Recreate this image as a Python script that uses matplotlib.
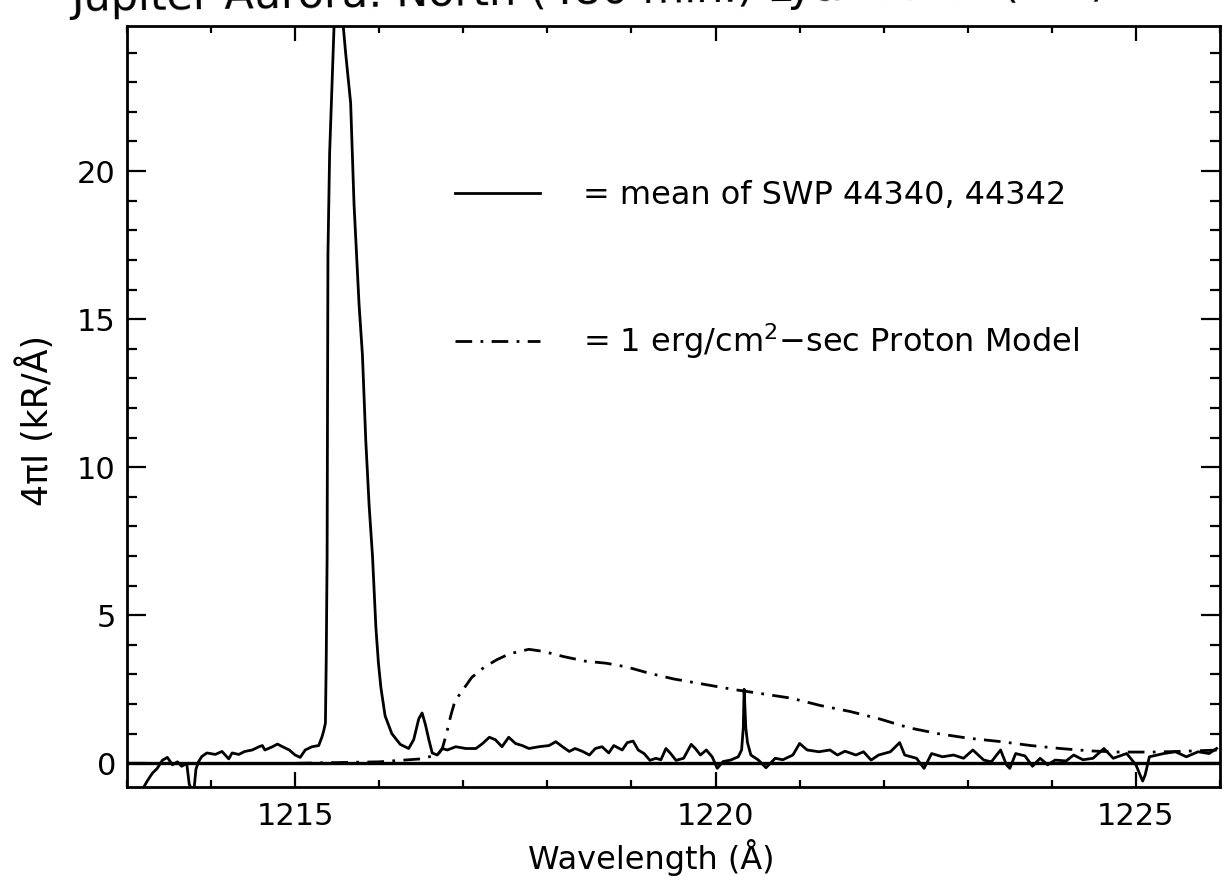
import numpy as np
import matplotlib.pyplot as plt
from matplotlib.lines import Line2D
from matplotlib.ticker import MultipleLocator

# mean of SWP 44340, 44342
wave = [1213.18, 1213.24, 1213.30, 1213.36, 1213.42, 1213.48, 1213.54, 1213.60,
        1213.65, 1213.71, 1213.74, 1213.77, 1213.80, 1213.82, 1213.85, 1213.89,
        1213.95, 1214.05, 1214.13, 1214.21, 1214.25, 1214.33, 1214.40, 1214.49,
        1214.57, 1214.61, 1214.64, 1214.73, 1214.79, 1214.85, 1214.93, 1215.00,
        1215.06, 1215.12, 1215.20, 1215.28, 1215.32, 1215.34, 1215.36, 1215.37,
        1215.38, 1215.385, 1215.39, 1215.41, 1215.44, 1215.47, 1215.51, 1215.55,
        1215.60, 1215.66, 1215.70, 1215.76, 1215.80, 1215.84, 1215.88, 1215.92,
        1215.96, 1215.99, 1216.02, 1216.07, 1216.15, 1216.25, 1216.35, 1216.41,
        1216.47, 1216.51, 1216.55, 1216.59, 1216.63, 1216.69, 1216.75, 1216.81,
        1216.91, 1217.03, 1217.15, 1217.23, 1217.31, 1217.38, 1217.46, 1217.54,
        1217.62, 1217.70, 1217.78, 1217.90, 1218.02, 1218.10, 1218.18, 1218.26,
        1218.33, 1218.42, 1218.50, 1218.57, 1218.65, 1218.73, 1218.79, 1218.89,
        1218.95, 1219.02, 1219.08, 1219.15, 1219.22, 1219.29, 1219.35, 1219.41,
        1219.46, 1219.53, 1219.62, 1219.71, 1219.76, 1219.82, 1219.89, 1219.96,
        1220.02, 1220.09, 1220.18, 1220.27, 1220.31, 1220.33, 1220.34, 1220.36,
        1220.38, 1220.42, 1220.51, 1220.60, 1220.71, 1220.80, 1220.92, 1221.00,
        1221.09, 1221.23, 1221.36, 1221.45, 1221.54, 1221.67, 1221.76, 1221.85,
        1221.94, 1222.08, 1222.19, 1222.25, 1222.39, 1222.48, 1222.57, 1222.70,
        1222.83, 1222.95, 1223.06, 1223.19, 1223.28, 1223.39, 1223.46, 1223.50,
        1223.57, 1223.68, 1223.77, 1223.86, 1223.95, 1224.04, 1224.17, 1224.26,
        1224.37, 1224.49, 1224.62, 1224.73, 1224.89, 1225.00, 1225.04, 1225.08,
        1225.11, 1225.16, 1225.33, 1225.47, 1225.60, 1225.74, 1225.87, 1225.96]
flux = [-0.90, -0.60, -0.34, -0.17, 0.10, 0.20, -0.05, 0.05,
        -0.10, 0.00, -0.70, -0.90, -0.80, -0.20, 0.05, 0.23,
        0.35, 0.30, 0.40, 0.15, 0.35, 0.30, 0.40, 0.45,
        0.56, 0.60, 0.45, 0.56, 0.65, 0.56, 0.45, 0.28,
        0.20, 0.45, 0.56, 0.60, 0.90, 1.10, 1.36, 3.60,
        7.00, 11.7, 17.2, 20.6, 23.1, 25.5, 27.0, 25.6,
        24.0, 22.3, 18.9, 15.5, 13.8, 10.9, 8.70, 7.00,
        4.60, 3.40, 2.55, 1.60, 1.00, 0.64, 0.50, 0.80,
        1.50, 1.70, 1.30, 0.80, 0.35, 0.28, 0.50, 0.45,
        0.56, 0.50, 0.50, 0.67, 0.88, 0.80, 0.56, 0.88,
        0.67, 0.60, 0.50, 0.56, 0.60, 0.73, 0.56, 0.40,
        0.50, 0.40, 0.28, 0.50, 0.56, 0.35, 0.60, 0.45,
        0.70, 0.75, 0.45, 0.33, 0.10, 0.17, 0.12, 0.50,
        0.35, 0.10, 0.17, 0.64, 0.50, 0.28, 0.45, 0.22,
        -0.17, 0.06, 0.11, 0.22, 0.45, 1.20, 2.50, 1.20,
        0.70, 0.28, 0.11, -0.15, 0.17, 0.12, 0.28, 0.67,
        0.45, 0.39, 0.45, 0.28, 0.41, 0.28, 0.39, 0.11,
        0.28, 0.39, 0.70, 0.28, 0.17, -0.17, 0.33, 0.22,
        0.28, 0.17, 0.45, 0.11, 0.05, 0.45, -0.05, -0.17,
        0.33, 0.25, -0.10, 0.17, -0.05, 0.11, 0.08, 0.28,
        0.12, 0.17, 0.50, 0.17, 0.33, -0.05, -0.33, -0.60,
        -0.39, 0.22, 0.33, 0.39, 0.22, 0.39, 0.33, 0.50]

# 1 erg/cm2-sec proton model
model_wave = [1215.00, 1216.00, 1216.50, 1216.70, 1216.75, 1216.80, 1216.85, 1216.90,
              1217.00, 1217.10, 1217.25, 1217.40, 1217.55, 1217.78, 1217.95, 1218.20,
              1218.45, 1218.70, 1218.95, 1219.20, 1219.50, 1219.90, 1220.20, 1220.55,
              1220.90, 1221.25, 1221.60, 1221.95, 1222.30, 1222.65, 1223.00, 1223.40,
              1223.75, 1224.10, 1224.45, 1224.80, 1225.20, 1225.50, 1226.00]
model_flux = [0.00, 0.05, 0.15, 0.30, 0.50, 1.00, 1.60, 2.10,
              2.50, 2.90, 3.25, 3.50, 3.70, 3.85, 3.78, 3.60,
              3.45, 3.38, 3.25, 3.05, 2.85, 2.65, 2.50, 2.35,
              2.20, 1.95, 1.75, 1.50, 1.20, 1.00, 0.85, 0.73,
              0.60, 0.50, 0.42, 0.38, 0.38, 0.40, 0.45]

labels = ['= mean of SWP 44340, 44342', '= 1 erg/cm$^2$\u2212sec Proton Model']

plt.rcParams['font.family'] = ['DejaVu Sans']
plt.rcParams['mathtext.fontset'] = 'dejavusans'
fs = 22

fig = plt.figure(figsize=(12.32, 8.83), dpi=100)
ax = fig.add_axes([127 / 1232, 96 / 883, 1093 / 1232, 761 / 883])

dashdot = (0, (6, 3, 1, 3))
ax.plot(wave, flux, color='black', lw=2.0)
ax.plot(model_wave, model_flux, color='black', lw=2.0, linestyle=dashdot)
ax.axhline(0, color='black', lw=2.4)

ax.set_xlim(1213, 1226)
ax.set_ylim(-0.8, 24.9)

ax.xaxis.set_major_locator(MultipleLocator(5))
ax.xaxis.set_minor_locator(MultipleLocator(1))
ax.yaxis.set_major_locator(MultipleLocator(5))
ax.yaxis.set_minor_locator(MultipleLocator(1))
ax.tick_params(axis='both', which='both', direction='in', top=True, right=True,
               width=1.6, labelsize=fs)
ax.tick_params(axis='x', which='major', length=11, pad=11)
ax.tick_params(axis='x', which='minor', length=5)
ax.tick_params(axis='y', which='major', length=14, pad=8)
ax.tick_params(axis='y', which='minor', length=7)
for s in ax.spines.values():
    s.set_linewidth(2)

ax.set_xlabel('Wavelength (Å)', fontsize=23)
ax.set_ylabel('4\u03c0I (kR/Å)', fontsize=25)
ax.xaxis.set_label_coords(0.48, -0.068)
ax.yaxis.set_label_coords(-0.066, 0.482)

# legend
handles = [Line2D([], [], color='black', lw=2.0),
           Line2D([], [], color='black', lw=2.0, linestyle=dashdot)]
ax.legend(handles, labels, loc='upper left', bbox_to_anchor=(0.30, 0.797),
          frameon=False, fontsize=23, handlelength=2.65, handletextpad=1.35,
          labelspacing=3.45, borderpad=0, borderaxespad=0)

# title, mostly cut off by the top edge of the scan
fig.text(71 / 1232, 1 - 11 / 883, 'Jupiter Aurora: North (480 min.) Ly\u03b1 Profile (IUE)',
         fontsize=31, ha='left', va='baseline', rotation=0.8, rotation_mode='anchor')

fig.savefig('out.png', dpi=100)
